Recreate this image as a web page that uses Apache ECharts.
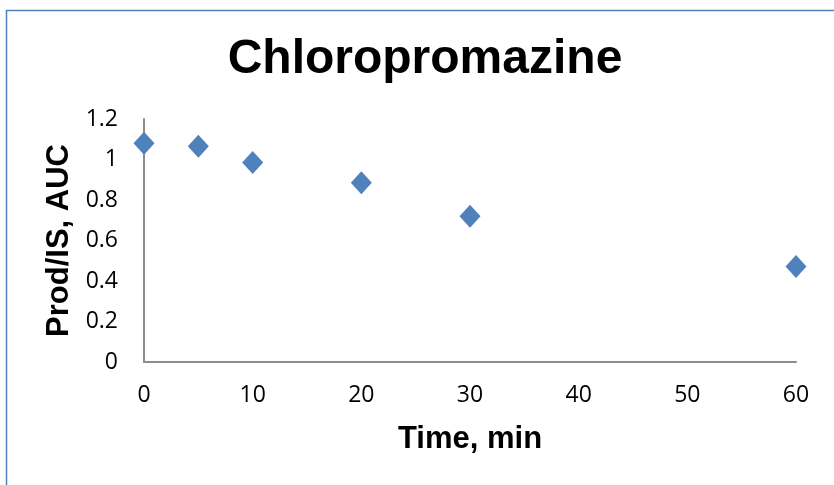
<!DOCTYPE html>
<html>
<head>
<meta charset="utf-8">
<script src="https://cdn.jsdelivr.net/npm/echarts@6/dist/echarts.min.js"></script>
<style>
  html, body { margin: 0; padding: 0; background: #ffffff; }
  #chart { width: 834px; height: 485px; }
</style>
</head>
<body>
<div id="chart"></div>
<script>
// Sampling times (min) and product / internal standard AUC ratio
var timeMin = [0, 5, 10, 20, 30, 60];
var prodIS = [1.08, 1.065, 0.985, 0.885, 0.72, 0.472];
var xTicks = [0, 10, 20, 30, 40, 50, 60];
var yTicks = [0, 0.2, 0.4, 0.6, 0.8, 1, 1.2];

var points = timeMin.map(function (t, i) { return [t, prodIS[i]]; });

var chart = echarts.init(document.getElementById('chart'), null, { renderer: 'canvas' });

var tickFont = { fontFamily: 'Open Sans', fontSize: 23, color: '#000000' };
var nameFont = { fontFamily: 'Liberation Sans', fontSize: 31, fontWeight: 'bold', color: '#000000' };

chart.setOption({
  animation: false,
  backgroundColor: '#ffffff',
  title: {
    text: 'Chloropromazine',
    left: 420,
    textAlign: 'center',
    top: 31,
    textStyle: { fontFamily: 'Liberation Sans', fontSize: 48, fontWeight: 'bold', color: '#000000' }
  },
  graphic: [{
    type: 'polyline',
    shape: { points: [[6.5, 600], [6.5, 10.5], [900, 10.5]] },
    style: { stroke: '#4F81BD', lineWidth: 1.5, fill: null },
    silent: true
  }],
  grid: { left: 144, right: 38, top: 119, bottom: 123, containLabel: false },
  xAxis: {
    type: 'value',
    min: xTicks[0],
    max: xTicks[xTicks.length - 1],
    interval: 10,
    name: 'Time, min',
    nameLocation: 'middle',
    nameGap: 62,
    nameTextStyle: nameFont,
    axisLine: { lineStyle: { color: '#8c8c8c', width: 2 } },
    axisTick: { show: false },
    splitLine: { show: false },
    axisLabel: Object.assign({ margin: 22 }, tickFont)
  },
  yAxis: {
    type: 'value',
    min: yTicks[0],
    max: yTicks[yTicks.length - 1],
    interval: 0.2,
    name: 'Prod/IS, AUC',
    nameLocation: 'middle',
    nameGap: 69,
    nameTextStyle: nameFont,
    axisLine: { show: true, lineStyle: { color: '#8c8c8c', width: 2 } },
    axisTick: { show: false },
    splitLine: { show: false },
    axisLabel: Object.assign({ margin: 26 }, tickFont)
  },
  series: [{
    type: 'scatter',
    data: points,
    symbol: 'diamond',
    symbolSize: [21, 23],
    itemStyle: { color: '#4F81BD', opacity: 1 }
  }]
});
</script>
</body>
</html>
